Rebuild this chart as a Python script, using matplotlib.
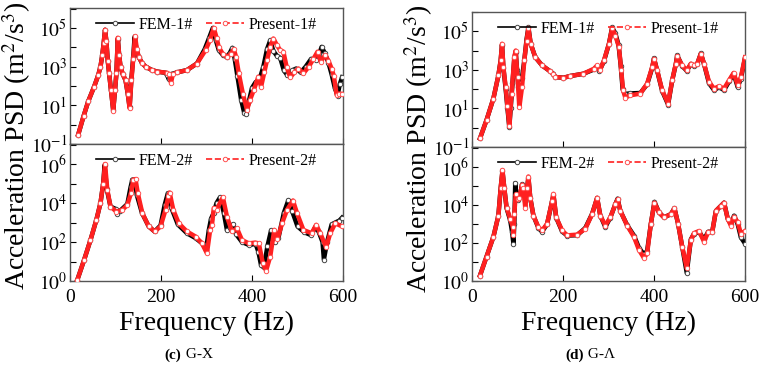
import numpy as np
import matplotlib
matplotlib.use("Agg")
import matplotlib.pyplot as plt
from matplotlib.ticker import LogLocator, FuncFormatter, FixedLocator

plt.rcParams["font.family"] = ["Liberation Serif", "DejaVu Serif"]
plt.rcParams["mathtext.fontset"] = "stix"

# ----------------------------
# DATA (frequency in Hz, PSD given as log10 exponent)
# ----------------------------
# (c) G-X, upper plot
gx_fem1_f = [18, 30, 40, 53, 62, 67, 71, 74, 77, 80, 83, 86, 90, 95, 99, 102, 105, 108, 111, 116,
             122, 127, 131, 135, 139, 142, 146, 151, 158, 166, 180, 192, 210, 214, 217, 221, 235,
             257, 279, 296, 306, 314, 320, 327, 336, 344, 351, 357, 362, 368, 376, 383, 387, 393,
             400, 408, 416, 425, 433, 440, 447, 455, 462, 470, 478, 488, 497, 507, 518, 530, 540,
             547, 553, 560, 568, 575, 582, 588, 593, 598]
gx_fem1_p = [-0.52, 0.45, 1.2, 1.96, 2.55, 3.0, 3.6, 4.2, 4.9, 4.3, 3.3, 2.65, 1.8, 0.75, 1.8, 2.65,
             4.45, 3.6, 3.0, 2.6, 2.3, 1.6, 0.9, 2.4, 3.5, 4.55, 3.9, 3.5, 3.2, 3.0, 2.82, 2.74, 2.68,
             2.55, 2.35, 2.6, 2.7, 2.82, 3.16, 3.9, 4.5, 5.0, 4.4, 3.85, 3.6, 3.5, 3.7, 3.97, 3.4,
             2.5, 1.3, 0.6, 0.55, 1.2, 1.9, 2.2, 2.3, 3.0, 3.9, 4.35, 3.8, 3.55, 3.45, 2.8, 2.55,
             2.8, 2.9, 2.7, 3.0, 3.4, 3.35, 3.6, 4.02, 3.7, 3.2, 2.6, 1.9, 1.5, 2.1, 2.45]
gx_pre1_f = [18, 30, 40, 53, 62, 67, 71, 74, 77, 80, 83, 86, 90, 95, 99, 102, 105, 108, 111, 116,
             122, 127, 131, 135, 139, 143, 147, 151, 158, 166, 180, 192, 213, 218, 222, 226, 235,
             257, 279, 298, 308, 316, 322, 327, 336, 345, 353, 360, 365, 371, 380, 389, 396, 404,
             414, 420, 427, 433, 440, 447, 455, 462, 469, 476, 484, 493, 502, 513, 525, 535, 544,
             551, 561, 568, 575, 580, 586, 592, 598]
gx_pre1_p = [-0.52, 0.45, 1.2, 1.96, 2.55, 3.0, 3.6, 4.2, 4.91, 4.3, 3.3, 2.65, 1.8, 0.73, 1.8, 2.65,
             4.49, 3.6, 3.0, 2.6, 2.3, 1.6, 0.85, 2.3, 3.4, 4.57, 3.9, 3.5, 3.2, 3.0, 2.82, 2.74, 2.68,
             2.6, 2.17, 2.6, 2.7, 2.82, 3.16, 3.85, 4.4, 5.0, 4.5, 4.0, 3.65, 3.5, 3.65, 3.9, 3.5,
             2.65, 1.6, 0.76, 1.3, 1.79, 2.48, 1.96, 2.7, 3.34, 4.0, 4.45, 4.1, 3.85, 3.77, 3.0,
             2.44, 2.7, 2.9, 2.65, 3.0, 3.4, 3.77, 3.25, 3.6, 3.3, 2.9, 2.5, 1.54, 1.6, 1.59]

# (c) G-X, lower plot
gx_fem2_f = [16, 31, 45, 58, 67, 73, 76, 81, 89, 100, 104, 110, 126, 133, 137, 142, 147, 158, 173,
             186, 199, 208, 215, 222, 237, 257, 276, 292, 299, 305, 310, 316, 322, 330, 338, 345,
             352, 358, 365, 378, 393, 408, 414, 420, 426, 434, 442, 450, 458, 470, 480, 488, 500,
             515, 530, 540, 547, 555, 558, 565, 575, 583, 592, 598]
gx_fem2_p = [0.05, 1.08, 2.1, 3.14, 4.0, 5.0, 5.95, 4.7, 3.82, 3.7, 3.45, 3.6, 3.95, 4.8, 5.2, 5.2,
             4.4, 3.5, 2.8, 2.54, 2.85, 3.9, 4.5, 3.8, 2.9, 2.45, 2.2, 1.9, 1.6, 2.6, 3.2, 3.5, 4.0,
             4.3, 3.5, 2.6, 2.7, 2.9, 2.4, 2.0, 1.85, 1.9, 1.5, 0.8, 0.7, 1.8, 2.6, 2.0, 2.2, 3.5,
             4.15, 3.6, 2.8, 2.5, 2.35, 2.8, 2.5, 2.0, 1.1, 2.0, 2.9, 3.0, 3.1, 3.25]
gx_pre2_f = [16, 31, 45, 58, 67, 73, 77, 82, 89, 102, 115, 126, 134, 139, 144, 149, 159, 173, 186,
             199, 210, 216, 219, 227, 239, 257, 276, 290, 301, 308, 312, 316, 322, 336, 345, 356,
             367, 378, 393, 407, 415, 424, 431, 440, 449, 456, 466, 477, 490, 499, 513, 531, 541,
             550, 563, 572, 583, 598]
gx_pre2_p = [0.05, 1.08, 2.1, 3.14, 4.0, 5.0, 6.0, 4.68, 3.82, 3.56, 3.65, 3.9, 4.5, 5.2, 5.23, 4.5,
             3.48, 2.8, 2.54, 2.8, 3.65, 4.34, 4.54, 3.65, 2.96, 2.54, 2.28, 1.93, 1.42, 2.62, 2.88,
             3.74, 3.65, 4.3, 3.3, 2.54, 2.7, 2.1, 1.93, 1.97, 1.93, 0.9, 0.53, 1.25, 2.62, 2.14,
             2.96, 3.65, 4.13, 3.48, 2.62, 2.45, 2.88, 2.45, 1.73, 2.45, 2.96, 2.8]

# (d) G-Lambda, upper plot
gl_fem1_f = [17.6, 32, 47, 58, 63, 66, 69, 74, 78, 82, 85, 89, 93, 96, 99, 102, 106, 110, 115, 120,
             124, 129, 139, 154, 172, 179, 183, 201, 216, 245, 268, 275, 280, 290, 301, 308, 315,
             322, 327, 331, 336, 348, 370, 385, 396, 400, 407, 418, 431, 440, 448, 451, 462, 472,
             481, 488, 495, 503, 510, 521, 532, 543, 554, 565, 575, 584, 591, 600]
gl_fem1_p = [-0.55, 0.4, 1.51, 2.71, 3.49, 4.3, 3.1, 2.0, 1.0, 0.02, 1.0, 2.3, 3.6, 3.95, 3.0, 2.1,
             2.3, 2.6, 3.5, 4.6, 5.2, 4.35, 3.66, 3.23, 2.92, 2.8, 2.63, 2.59, 2.68, 2.8, 3.02, 3.15,
             2.95, 3.45, 4.35, 5.2, 4.9, 4.3, 3.2, 2.0, 1.75, 1.78, 1.8, 2.25, 3.1, 3.6, 2.95, 1.9,
             1.2, 2.45, 3.3, 3.75, 3.2, 2.95, 3.3, 3.2, 3.3, 3.85, 3.3, 2.3, 1.95, 2.1, 1.95, 2.4,
             2.8, 2.1, 2.55, 3.6]
gl_pre1_f = [17.6, 32, 47, 58, 63, 66, 69, 74, 78, 82, 87, 93, 96, 100, 104, 110, 115, 120, 124,
             129, 139, 154, 172, 179, 183, 201, 216, 245, 268, 275, 281, 290, 301, 308, 315, 323,
             328, 332, 337, 348, 370, 385, 396, 400, 407, 418, 431, 440, 448, 451, 462, 472, 481,
             488, 495, 503, 510, 521, 532, 543, 554, 565, 575, 584, 591, 600]
gl_pre1_p = [-0.55, 0.4, 1.51, 2.71, 3.49, 4.35, 3.14, 2.11, 1.1, 0.1, 1.77, 3.66, 4.0, 2.63, 1.05,
             2.11, 3.49, 4.52, 5.17, 4.35, 3.66, 3.23, 2.92, 2.77, 2.63, 2.59, 2.68, 2.8, 3.06,
             3.23, 2.97, 3.49, 4.35, 5.17, 4.78, 4.18, 2.97, 1.94, 1.56, 1.68, 1.77, 2.29, 3.14,
             3.57, 2.97, 1.94, 1.25, 2.46, 3.32, 3.71, 3.23, 2.97, 3.32, 3.23, 3.32, 3.83, 3.32,
             2.37, 2.03, 2.15, 2.03, 2.46, 2.84, 2.2, 2.63, 3.65]

# (d) G-Lambda, lower plot
gl_fem2_f = [17.6, 32, 47, 58, 63, 67, 71, 76, 84, 88, 91, 93, 95, 98, 102, 106, 110, 113, 117, 121,
             124, 128, 135, 146, 154, 165, 176, 179, 185, 198, 209, 231, 249, 264, 275, 282, 293,
             304, 315, 320, 326, 341, 356, 367, 378, 385, 393, 401, 411, 422, 437, 445, 453, 462,
             472, 481, 488, 499, 510, 519, 528, 536, 547, 554, 562, 569, 576, 584, 591, 600]
gl_fem2_p = [0.29, 1.29, 2.33, 3.45, 4.9, 5.8, 4.9, 3.85, 3.2, 2.6, 1.98, 3.0, 5.17, 4.4, 4.3, 4.6,
             5.1, 4.9, 4.2, 4.9, 5.45, 4.4, 3.45, 2.8, 2.6, 3.0, 4.2, 4.55, 3.35, 2.62, 2.4, 2.42,
             2.8, 3.55, 4.38, 3.45, 2.85, 3.35, 4.05, 4.35, 3.7, 2.95, 2.4, 1.75, 1.4, 1.6, 3.0,
             4.18, 3.62, 3.36, 3.53, 3.84, 3.02, 1.8, 0.43, 2.2, 2.5, 2.6, 2.2, 2.6, 2.6, 3.7, 3.97,
             4.14, 3.3, 3.0, 3.45, 3.0, 2.3, 1.98]
gl_pre2_f = [17.6, 32, 47, 58, 63, 67, 71, 76, 84, 90, 91, 93, 96, 100, 104, 110, 113, 117, 121, 124,
             128, 135, 146, 154, 165, 176, 179, 185, 198, 209, 231, 249, 264, 275, 282, 293, 304,
             315, 320, 326, 341, 356, 367, 378, 385, 393, 401, 411, 422, 437, 445, 453, 462, 472,
             481, 488, 499, 510, 519, 528, 536, 547, 554, 562, 569, 576, 584, 591, 600]
gl_pre2_p = [0.29, 1.29, 2.33, 3.45, 4.91, 5.86, 4.91, 3.88, 3.28, 2.84, 2.41, 3.53, 4.57, 4.31, 4.4,
             5.09, 4.91, 3.88, 4.91, 5.52, 4.4, 3.45, 2.84, 2.67, 3.02, 4.22, 4.6, 3.36, 2.67, 2.41,
             2.45, 2.76, 3.53, 4.4, 3.45, 2.93, 3.36, 4.05, 4.31, 3.71, 2.93, 2.33, 1.64, 1.21,
             1.47, 3.02, 4.14, 3.62, 3.36, 3.53, 3.84, 3.02, 1.81, 0.69, 2.16, 2.53, 2.64, 2.07,
             2.59, 2.59, 3.71, 3.97, 4.14, 3.28, 2.93, 3.4, 3.1, 2.5, 2.64]

W, H = 763, 368
fig = plt.figure(figsize=(W / 100, H / 100), dpi=100)


def box(x0, y0, x1, y1):
    # pixel box -> figure fraction
    return [x0 / W, 1 - y1 / H, (x1 - x0) / W, (y1 - y0) / H]


def sci(v, _):
    e = int(round(np.log10(v)))
    return r"$10^{%d}$" % e


def style_ax(ax, ylim, labelled):
    ax.set_yscale("log")
    ax.set_xlim(0, 600)
    ax.set_ylim(*ylim)
    ax.yaxis.set_major_locator(LogLocator(base=10, numticks=20))
    ax.yaxis.set_minor_locator(FixedLocator([]))
    ax.yaxis.set_major_formatter(FuncFormatter(
        lambda v, p: sci(v, p) if int(round(np.log10(v))) in labelled else ""))
    ax.set_xticks([0, 200, 400, 600])
    ax.tick_params(direction="in", length=4, width=0.8, labelsize=14,
                   colors="black")
    ax.tick_params(axis="y", pad=2)
    ax.tick_params(axis="x", pad=6)
    for s in ax.spines.values():
        s.set_color("#555555")
        s.set_linewidth(1.0)


def draw(ax, f1, p1, f2, p2, n):
    ax.plot(f1, 10 ** np.array(p1), color="black", lw=3.2, zorder=2)
    ax.plot(f1, 10 ** np.array(p1), color="black", lw=1.2, marker="o", ms=3.2,
            mfc="white", mec="#444444", mew=0.7, zorder=3, label="FEM-%d#" % n)
    ax.plot(f2, 10 ** np.array(p2), color="#ff2020", lw=3.2, zorder=4)
    ax.plot(f2, 10 ** np.array(p2), color="#ff2020", lw=1.2, ls="--", marker="o", ms=3.2,
            mfc="white", mec="#ff5050", mew=0.7, zorder=5, label="Present-%d#" % n)
    ax.legend(loc="upper center", ncol=2, frameon=False, fontsize=11.5,
              handlelength=2.4, handletextpad=0.3, columnspacing=0.8,
              borderaxespad=0.15)


panels = [
    (70, 343, 8, 144, 281, "G-X", "(c)",
     (gx_fem1_f, gx_fem1_p, gx_pre1_f, gx_pre1_p),
     (gx_fem2_f, gx_fem2_p, gx_pre2_f, gx_pre2_p),
     (1e-1, 1.07e6), (1e0, 1.07e7)),
    (472, 745, 12, 147, 281, "G-\u039b", "(d)",
     (gl_fem1_f, gl_fem1_p, gl_pre1_f, gl_pre1_p),
     (gl_fem2_f, gl_fem2_p, gl_pre2_f, gl_pre2_p),
     (1e-1, 1.0e6), (1e0, 1.2e7)),
]

for x0, x1, ytop, ymid, ybot, name, tag, top, bot, ylim_t, ylim_b in panels:
    ax_t = fig.add_axes(box(x0, ytop, x1, ymid))
    ax_b = fig.add_axes(box(x0, ymid, x1, ybot))
    style_ax(ax_t, ylim_t, [-1, 1, 3, 5])
    style_ax(ax_b, ylim_b, [0, 2, 4, 6])
    ax_t.tick_params(labelbottom=False)
    draw(ax_t, *top, 1)
    draw(ax_b, *bot, 2)
    ax_b.set_xlabel("Frequency (Hz)", fontsize=20, labelpad=3)

    # shared y label, centred on the divider
    fig.text((x0 - 53) / W, 1 - (ymid + 2) / H, r"Acceleration PSD (m$^2$/s$^3$)",
             rotation=90, fontsize=20, ha="center", va="center")

    cx = (x0 + x1) / 2 - 25
    fig.text(cx / W, 1 - 355 / H, tag, fontsize=11, fontweight="bold",
             ha="right", va="center")
    fig.text(cx / W, 1 - 355 / H, " " + name, fontsize=11, ha="left", va="center")

fig.savefig("out.png", dpi=100)
